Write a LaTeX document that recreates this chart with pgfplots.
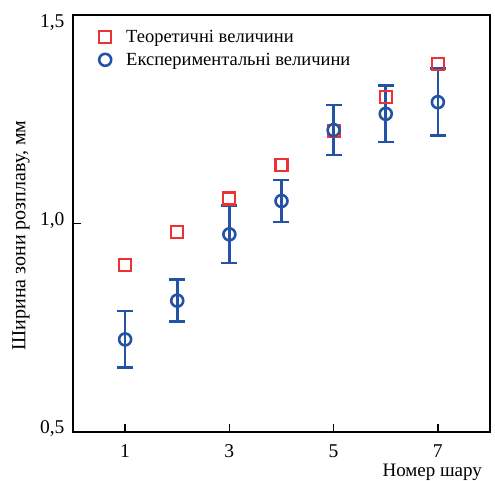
\documentclass[border=0pt]{standalone}
\usepackage{pgfplots}
\pgfplotsset{compat=1.18}
\usepackage{fontspec}
\setmainfont{Liberation Serif}
\definecolor{myred}{RGB}{236,50,50}
\definecolor{myblue}{RGB}{36,82,164}
\pgfplotstableread{
x y
1 0.900
2 0.980
3 1.060
4 1.140
5 1.222
6 1.303
7 1.383
}\theor
\pgfplotstableread{
x y e
1 0.722 0.068
2 0.815 0.050
3 0.974 0.069
4 1.054 0.050
5 1.224 0.060
6 1.263 0.068
7 1.291 0.080
}\exper
\begin{document}
\begin{tikzpicture}
\begin{axis}[
  scale only axis, width=417pt, height=417pt,
  xmin=0, xmax=8, ymin=0.5, ymax=1.5,
  xtick={1,3,5,7}, ytick={0.5,1.0},
  extra y ticks={1.5},
  extra y tick style={yticklabel style={yshift=-11pt}},
  tick align=inside, xtick pos=bottom, ytick pos=left,
  major tick length=8pt,
  axis line style={line width=1.6pt},
  every tick/.style={line width=1.6pt, black},
  /pgf/number format/assume math mode=true,
  tick label style={font=\fontsize{19.5}{23}\selectfont},
  xticklabel style={yshift=-9pt},
  yticklabel style={xshift=-5pt, yshift=3pt, /pgf/number format/use comma, /pgf/number format/fixed, /pgf/number format/fixed zerofill, /pgf/number format/precision=1},
  ylabel={Ширина зони розплаву, мм},
  ylabel style={at={(rel axis cs:0,0.5)}, anchor=center, xshift=-12pt, yshift=52pt, font=\fontsize{20}{24}\selectfont},
  xlabel={Номер шару},
  xlabel style={at={(rel axis cs:0,0)}, anchor=base west, xshift=306pt, yshift=-44pt, font=\fontsize{19}{23}\selectfont},
  legend style={at={(rel axis cs:0,1)}, anchor=north west, xshift=23pt, yshift=-11pt, draw=none, fill=none, font=\fontsize{18.5}{22}\selectfont, row sep=5pt,
    /tikz/every odd column/.append style={column sep=13pt}},
  legend cell align=left,
]
\coordinate (O) at (rel axis cs:0,0);
\addplot[only marks, mark=square, mark size=6pt, myred, mark options={line width=2.2pt}] table[x=x,y=y] {\theor};
\addlegendentry{Теоретичні величини}
\addplot[only marks, mark=o, mark size=6pt, myblue, line width=2.6pt, mark options={line width=2.6pt},
  error bars/.cd, y dir=both, y explicit,
  error bar style={line width=2.6pt, myblue},
  error mark options={rotate=90, mark size=8pt, line width=2.6pt, myblue}]
  table[x=x,y=y,y error=e] {\exper};
\addlegendentry{Експериментальні величини}
\end{axis}
\pgfresetboundingbox
\path[use as bounding box] (O) ++(-73pt,-48pt) rectangle ++(495pt,480pt);
\end{tikzpicture}
\end{document}
